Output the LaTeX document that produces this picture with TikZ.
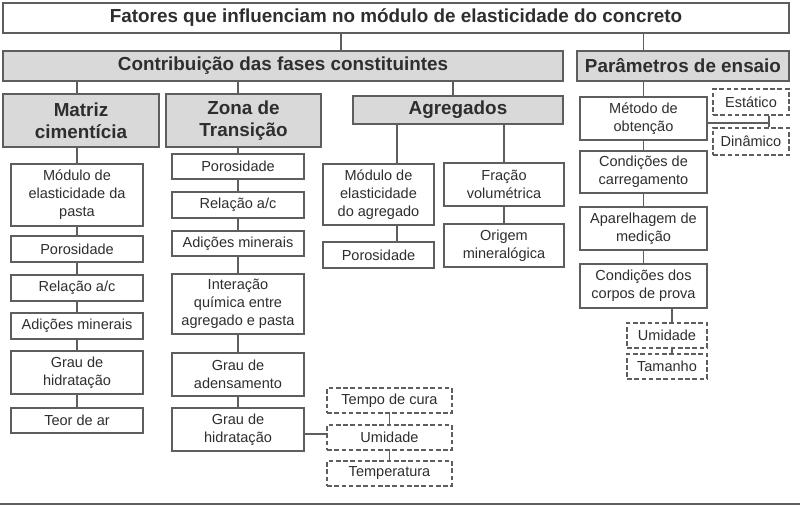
\documentclass[tikz,border=0pt]{standalone}
\usepackage{fontspec}
\setmainfont{Liberation Sans}
\usepackage{xcolor}
\usetikzlibrary{positioning}
\definecolor{boxline}{HTML}{5E5E5E}
\definecolor{boxfill}{HTML}{D9D9D9}
\definecolor{boxtext}{HTML}{2E2E2E}
\newcommand\Px{0.03cm}
\newcommand\HeadFont{\fontsize{16.1}{19}\selectfont\bfseries}
\newcommand\ItemFont{\fontsize{12.4}{15.4}\selectfont}
\tikzset{
  header/.style={
    draw = boxline,
    fill = boxfill,
    line width = 0.9pt,
    inner sep = 0pt,
    align = center,
    text = boxtext,
    font = \HeadFont
  },
}
\tikzset{
  item/.style={
    draw = boxline,
    fill = white,
    line width = 0.9pt,
    inner sep = 0pt,
    align = center,
    text = boxtext,
    font = \ItemFont
  },
}
\tikzset{
  itemdashed/.style={
    item,
    dash pattern = on 4pt off 2.2pt
  },
}
\tikzset{
  wh/.style 2 args={
    minimum width = #1*\Px,
    minimum height = #2*\Px
  },
  link/.style={
    draw = boxline,
    line width = 1.2pt
  }
}

\begin{document}
\begin{tikzpicture}[x=\Px, y=-\Px]
    \useasboundingbox (0,0) rectangle (800,506);

    % top levels
    \node[header, fill=white, wh={786}{30}] (title) at (396,18) {Fatores que influenciam no módulo de elasticidade do concreto};
    \node[header, wh={560}{30}] (contrib) at (283,66) {Contribuição das fases constituintes};
    \node[header, wh={212}{30}] (param) at (683,66) {Parâmetros de ensaio};

    \node[header, wh={156}{53}] (matriz) at (81,120.5) {Matriz\\cimentícia};
    \node[header, wh={155}{53}] (zona) at (243.5,120.5) {Zona de\\Transição};
    \node[header, wh={210}{28}] (agreg) at (458,110) {Agregados};

    % matriz cimenticia
    \node[item, wh={132}{62}] (m1) at (77,195) {Módulo de\\elasticidade da\\pasta};
    \node[item, wh={132}{26}] (m2) at (77,249) {Porosidade};
    \node[item, wh={132}{26}] (m3) at (77,288) {Relação a/c};
    \node[item, wh={132}{26}] (m4) at (77,326) {Adições minerais};
    \node[item, wh={132}{43}] (m5) at (77,372.5) {Grau de\\hidratação};
    \node[item, wh={132}{25}] (m6) at (77,420.5) {Teor de ar};

    % zona de transicao
    \node[item, wh={132}{25}] (z1) at (238,166.5) {Porosidade};
    \node[item, wh={132}{26}] (z2) at (238,205) {Relação a/c};
    \node[item, wh={132}{25}] (z3) at (238,243.5) {Adições minerais};
    \node[item, wh={132}{60}] (z4) at (238,304) {Interação\\química entre\\agregado e pasta};
    \node[item, wh={132}{43}] (z5) at (238,374.5) {Grau de\\adensamento};
    \node[item, wh={132}{43}] (z6) at (238,429.5) {Grau de\\hidratação};

    \node[itemdashed, wh={125}{25}] (d1) at (389.5,400.5) {Tempo de cura};
    \node[itemdashed, wh={125}{25}] (d2) at (389.5,437.5) {Umidade};
    \node[itemdashed, wh={125}{25}] (d3) at (389.5,473.5) {Temperatura};

    % agregados
    \node[item, wh={111}{61}] (a1) at (378.5,194.5) {Módulo de\\elasticidade\\do agregado};
    \node[item, wh={111}{26}] (a2) at (378.5,255) {Porosidade};
    \node[item, wh={120}{43}] (a3) at (504,184.5) {Fração\\volumétrica};
    \node[item, wh={120}{43}] (a4) at (504,245.5) {Origem\\mineralógica};

    % parametros de ensaio
    \node[item, wh={127}{43}] (p1) at (643.5,118.5) {Método de\\obtenção};
    \node[item, wh={127}{42}] (p2) at (643.5,172) {Condições de\\carregamento};
    \node[item, wh={127}{43}] (p3) at (643.5,228.5) {Aparelhagem de\\medição};
    \node[item, wh={127}{44}] (p4) at (643.5,286) {Condições dos\\corpos de prova};

    \node[itemdashed, wh={76}{26}] (e1) at (751,102) {Estático};
    \node[itemdashed, wh={76}{27}] (e2) at (751,141.5) {Dinâmico};
    \node[itemdashed, wh={80}{25}] (u1) at (667,335.5) {Umidade};
    \node[itemdashed, wh={80}{25}] (u2) at (667,366.5) {Tamanho};
    \coordinate (pj) at (769,123);

    % connectors
    \draw[link] ([xshift=58*\Px]contrib.north) -- ([xshift=58*\Px]contrib.north |- title.south);
    \draw[link] (param.north -| p1) -- (title.south -| p1);
    \draw[link] (matriz.north -| m1) -- (contrib.south -| m1);
    \draw[link] (zona.north -| z1) -- (contrib.south -| z1);
    \draw[link] ([xshift=-5*\Px]agreg.north) -- ([xshift=-5*\Px]agreg.north |- contrib.south);

    \foreach \a/\b in {matriz/m1,m1/m2,m2/m3,m3/m4,m4/m5,m5/m6,
                       zona/z1,z1/z2,z2/z3,z3/z4,z4/z5,z5/z6,
                       agreg/a3,a3/a4,d1/d2,d2/d3,
                       param/p1,p1/p2,p2/p3,p3/p4}
        \draw[link] (\b.north) -- (\a.south -| \b.north);

    \draw[link] ([xshift=18.5*\Px]a1.north) -- ([xshift=18.5*\Px]a1.north |- agreg.south);
    \draw[link] ([xshift=18.5*\Px]a2.north) -- ([xshift=18.5*\Px]a2.north |- a1.south);
    \draw[link] ([yshift=3.5*\Px]d2.west) -- ([yshift=3.5*\Px]d2.west -| z6.east);
    \draw[link] (p1.east |- pj) -- (pj);
    \draw[link] (e1.south -| pj) -- (e2.north -| pj);
    \draw[link] ([xshift=5*\Px]u1.north) -- ([xshift=5*\Px]u1.north |- p4.south);
    \draw[link] ([xshift=5*\Px]u2.north) -- ([xshift=5*\Px]u2.north |- u1.south);

    \draw[boxline, line width=1.2pt] (0,504) -- (800,504);
\end{tikzpicture}
\end{document}
